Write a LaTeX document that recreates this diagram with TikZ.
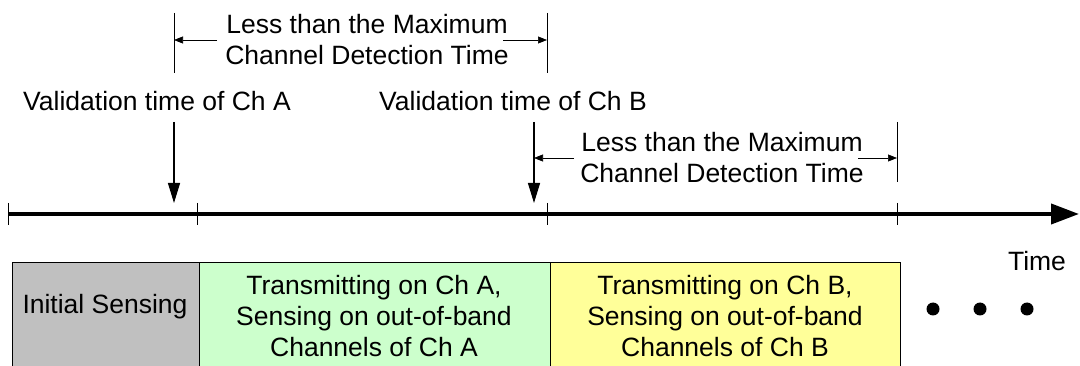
\documentclass[tikz,border=0pt]{standalone}
\usepackage{fontspec}
\setmainfont{Liberation Sans}
\usetikzlibrary{arrows.meta}
\begin{document}
\begin{tikzpicture}[x=1pt,y=-1pt,
  lbl/.style={font=\fontsize{26.5}{31}\selectfont, align=center, inner sep=0pt},
  phase/.style={draw=black, line width=0.6pt, lbl, anchor=north west},
  axis/.style={line width=4pt, -{Triangle[length=28pt,width=20pt]}},
  tick/.style={line width=0.6pt},
  instant/.style={line width=1.2pt, -{Triangle[length=20pt,width=12pt]}},
  dimline/.style={line width=0.6pt},
  dimarrow/.style={line width=0.6pt, -{Triangle[length=9pt,width=7pt]}}]
\useasboundingbox (0,0) rectangle (1080,366);

% time axis with boundary ticks
\coordinate (t0) at (8,214);
\coordinate (tend) at (1079,214);
\draw[axis] (t0) -- (tend);
\foreach \x/\n in {8/a,197/b,547/c,897/d}{
  \coordinate (tk\n top) at (\x,203);
  \coordinate (tk\n bot) at (\x,225);
  \draw[tick] (tk\n top) -- (tk\n bot);
}

% validation instants
\node[lbl] (valA) at (157,101) {Validation time of Ch A};
\node[lbl] (valB) at (513,101) {Validation time of Ch B};
\coordinate (vAtop) at (174,122);
\coordinate (vAbot) at (174,203);
\coordinate (vBtop) at (534,122);
\coordinate (vBbot) at (534,203);
\draw[instant] (vAtop) -- (vAbot);
\draw[instant] (vBtop) -- (vBbot);

% first detection-time span
\node[lbl] (dim1) at (367,40) {Less than the Maximum\\Channel Detection Time};
\coordinate (d1Ltop) at (174,13);
\coordinate (d1Lbot) at (174,73);
\coordinate (d1Rtop) at (547,13);
\coordinate (d1Rbot) at (547,73);
\draw[dimline] (d1Ltop) -- (d1Lbot);
\draw[dimline] (d1Rtop) -- (d1Rbot);
\coordinate (d1Ls) at (217,40);
\coordinate (d1Le) at (174,40);
\coordinate (d1Rs) at (503,40);
\coordinate (d1Re) at (547,40);
\draw[dimarrow] (d1Ls) -- (d1Le);
\draw[dimarrow] (d1Rs) -- (d1Re);

% second detection-time span
\node[lbl] (dim2) at (722,158) {Less than the Maximum\\Channel Detection Time};
\coordinate (d2Rtop) at (897,122);
\coordinate (d2Rbot) at (897,182);
\draw[dimline] (d2Rtop) -- (d2Rbot);
\coordinate (d2Ls) at (574,158);
\coordinate (d2Le) at (534,158);
\coordinate (d2Rs) at (858,158);
\coordinate (d2Re) at (897,158);
\draw[dimarrow] (d2Ls) -- (d2Le);
\draw[dimarrow] (d2Rs) -- (d2Re);

% phases
\node[phase, fill={rgb,255:red,192;green,192;blue,192}, minimum width=187pt, minimum height=106pt] (ph1) at (12,262) {};
\node[phase, fill={rgb,255:red,204;green,255;blue,204}, minimum width=351pt, minimum height=106pt] (ph2) at (199,262) {};
\node[phase, fill={rgb,255:red,255;green,255;blue,153}, minimum width=350pt, minimum height=106pt] (ph3) at (550,262) {};
\node[lbl] (ph1t) at (105,307) {Initial Sensing};
\node[lbl] (ph2t) at (374,316) {Transmitting on Ch A,\\Sensing on out-of-band\\Channels of Ch A};
\node[lbl] (ph3t) at (725,316) {Transmitting on Ch B,\\Sensing on out-of-band\\Channels of Ch B};

\node[lbl] (timelbl) at (1037,261) {Time};

% continuation dots
\foreach \x in {933,980,1027}{
  \fill (\x,309) circle (6.5pt);
}
\end{tikzpicture}
\end{document}
